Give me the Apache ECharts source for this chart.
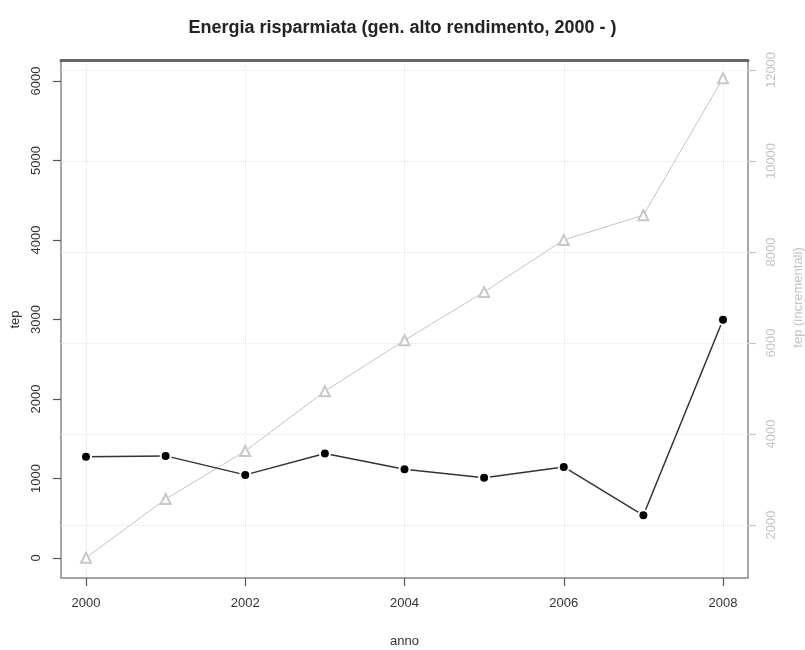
<!DOCTYPE html>
<html>
<head>
<meta charset="utf-8">
<script src="https://cdn.jsdelivr.net/npm/echarts@6/dist/echarts.min.js"></script>
<style>
  html, body { margin: 0; padding: 0; background: #fff; }
  #chart { width: 805px; height: 650px; }
</style>
</head>
<body>
<div id="chart"></div>
<script>
// anni e valori
var anni = [2000, 2001, 2002, 2003, 2004, 2005, 2006, 2007, 2008];
var tep = [1280, 1290, 1050, 1320, 1120, 1015, 1150, 540, 3010];
var tepIncrementali = [1280, 2570, 3625, 4940, 6060, 7120, 8265, 8810, 11820];

var font = "Liberation Sans";
var darkGrey = "#555";
var lightGrey = "#c4c4c4";

function plain(v) {
  return String(v);
}

var myChart = echarts.init(document.getElementById("chart"));

var option = {
  backgroundColor: "#fff",
  animation: false,
  title: {
    text: "Energia risparmiata (gen. alto rendimento, 2000 - )",
    left: "center",
    top: 14,
    textStyle: { fontFamily: font, fontSize: 18, fontWeight: "bold", color: "#222" }
  },
  grid: [
    // cornice
    { left: 61, right: 57, top: 60, bottom: 72, outerBoundsMode: "none", show: true, borderColor: "#888", borderWidth: 1.5 },
    // tacche asse sinistro
    { left: 61, right: 57, top: 81, bottom: 92, outerBoundsMode: "none" },
    // tacche asse destro
    { left: 61, right: 57, top: 70, bottom: 125, outerBoundsMode: "none" },
    // area dati
    { left: 86, right: 82, top: 60, bottom: 72, outerBoundsMode: "none" }
  ],
  xAxis: [
    {
      gridIndex: 0, type: "value", position: "top", min: 0, max: 1,
      axisLine: { show: true, onZero: false, lineStyle: { color: "#666", width: 3 } },
      axisTick: { show: false }, axisLabel: { show: false }, splitLine: { show: false }
    },
    { gridIndex: 1, type: "value", show: false, min: 0, max: 1 },
    { gridIndex: 2, type: "value", show: false, min: 0, max: 1 },
    {
      gridIndex: 3, type: "value", min: 2000, max: 2008, interval: 2, position: "bottom",
      name: "anno", nameLocation: "middle", nameGap: 57,
      nameTextStyle: { fontFamily: font, fontSize: 13, color: "#333" },
      axisLine: { show: false, onZero: false },
      axisTick: { show: true, inside: false, length: 8, lineStyle: { color: darkGrey, width: 1.2 } },
      axisLabel: { fontFamily: font, fontSize: 13, color: "#333", margin: 19, formatter: plain },
      splitLine: { show: true, lineStyle: { color: "#e4e4e4", type: "dotted", width: 1 } }
    }
  ],
  yAxis: [
    { gridIndex: 0, type: "value", show: false },
    {
      gridIndex: 1, type: "value", min: 0, max: 6000, interval: 1000, position: "left",
      name: "tep", nameLocation: "middle", nameGap: 35,
      nameTextStyle: { fontFamily: font, fontSize: 13, color: "#333" },
      axisLine: { show: false, onZero: false },
      axisTick: { show: true, inside: false, length: 8, lineStyle: { color: darkGrey, width: 1.2 } },
      axisLabel: { rotate: 90, fontFamily: font, fontSize: 13, color: "#333", margin: 18, formatter: plain },
      splitLine: { show: false }
    },
    {
      gridIndex: 2, type: "value", min: 2000, max: 12000, interval: 2000, position: "right",
      name: "tep (incrementali)", nameLocation: "middle", nameGap: 44,
      nameTextStyle: { fontFamily: font, fontSize: 13, color: lightGrey },
      axisLine: { show: false, onZero: false },
      axisTick: { show: true, inside: false, length: 8, lineStyle: { color: lightGrey, width: 1.2 } },
      axisLabel: { rotate: 90, fontFamily: font, fontSize: 13, color: lightGrey, margin: 17, formatter: plain },
      splitLine: { show: true, lineStyle: { color: "#e4e4e4", type: "dotted", width: 1 } }
    },
    // assi nascosti per i dati
    { gridIndex: 3, type: "value", show: false, min: -252, max: 6289 },
    { gridIndex: 3, type: "value", show: false, min: 835, max: 12220 }
  ],
  series: [
    {
      name: "tep (incrementali)",
      type: "line",
      xAxisIndex: 3,
      yAxisIndex: 4,
      data: anni.map(function (a, i) { return [a, tepIncrementali[i]]; }),
      symbol: "emptyTriangle",
      symbolSize: 10,
      lineStyle: { color: lightGrey, width: 1 },
      itemStyle: { color: "#c8c8c8", borderColor: "#c8c8c8", borderWidth: 1 },
      z: 2
    },
    {
      name: "tep",
      type: "line",
      xAxisIndex: 3,
      yAxisIndex: 3,
      data: anni.map(function (a, i) { return [a, tep[i]]; }),
      symbol: "circle",
      symbolSize: 10,
      lineStyle: { color: "#333", width: 1.5 },
      itemStyle: { color: "#000", borderColor: "#fff", borderWidth: 2 },
      z: 3
    }
  ]
};

myChart.setOption(option);
</script>
</body>
</html>
